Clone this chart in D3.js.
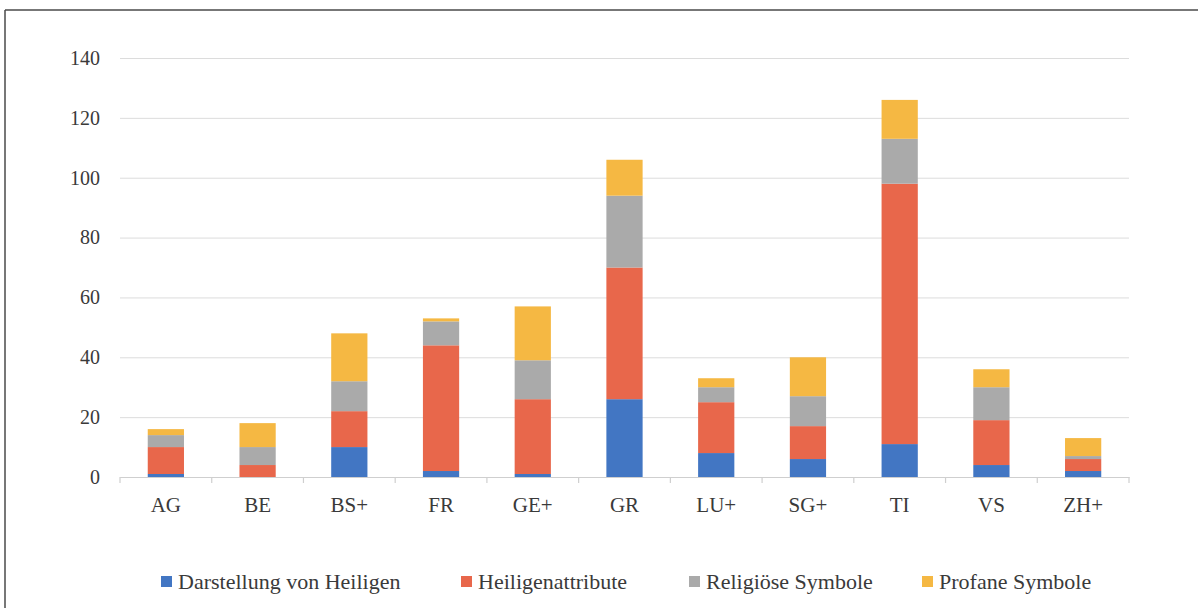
<!DOCTYPE html>
<html>
<head>
<meta charset="utf-8">
<script src="https://cdn.jsdelivr.net/npm/d3@7"></script>
<style>
  html, body { margin: 0; padding: 0; background: #ffffff; }
  svg { display: block; }
</style>
</head>
<body>
<svg id="chart" width="1198" height="608"></svg>
<script>
// Kantone (Kategorien)
const categories = ["AG", "BE", "BS+", "FR", "GE+", "GR", "LU+", "SG+", "TI", "VS", "ZH+"];

// Anzahl je Motivgruppe
const darstellungVonHeiligen = [1, 0, 10, 2, 1, 26, 8, 6, 11, 4, 2];
const heiligenattribute      = [9, 4, 12, 42, 25, 44, 17, 11, 87, 15, 4];
const religioeseSymbole      = [4, 6, 10, 8, 13, 24, 5, 10, 15, 11, 1];
const profaneSymbole         = [2, 8, 16, 1, 18, 12, 3, 13, 13, 6, 6];

const seriesNames = ["Darstellung von Heiligen", "Heiligenattribute", "Religiöse Symbole", "Profane Symbole"];
const seriesColors = ["#4276c3", "#e8674b", "#aaaaaa", "#f5b843"];
const yTicks = [0, 20, 40, 60, 80, 100, 120, 140];

const serif = '"Liberation Serif", "Times New Roman", serif';
const textColor = "#3a3a3a";

const svg = d3.select("#chart");

// Rahmen oben und links
svg.append("line").attr("x1", 5).attr("x2", 1198).attr("y1", 10).attr("y2", 10)
  .attr("stroke", "#4a4a4a").attr("stroke-width", 1.5);
svg.append("line").attr("x1", 5).attr("x2", 5).attr("y1", 10).attr("y2", 608)
  .attr("stroke", "#4a4a4a").attr("stroke-width", 1.5);

const plotLeft = 120, plotRight = 1129, plotTop = 58, plotBottom = 477;

const x = d3.scaleBand().domain(categories).range([plotLeft, plotRight]).padding(0);
const y = d3.scaleLinear().domain([0, 140]).range([plotBottom, plotTop]);

// Y-Achse mit Gitternetz
const yAxis = svg.append("g")
  .attr("transform", `translate(${plotLeft},0)`)
  .call(d3.axisLeft(y).tickValues(yTicks).tickSize(-(plotRight - plotLeft)).tickPadding(20));
yAxis.select(".domain").remove();
yAxis.selectAll(".tick line").attr("stroke", "#dcdcdc").attr("stroke-width", 1);
yAxis.selectAll(".tick text")
  .style("font-family", serif).style("font-size", "20px").style("fill", textColor);

// Gestapelte Daten
const rows = categories.map((c, i) => ({
  cat: c,
  s0: darstellungVonHeiligen[i],
  s1: heiligenattribute[i],
  s2: religioeseSymbole[i],
  s3: profaneSymbole[i]
}));
const stack = d3.stack().keys(["s0", "s1", "s2", "s3"]);
const layers = stack(rows);

const barW = x.bandwidth() * 0.395;

svg.append("g").selectAll("g")
  .data(layers)
  .join("g")
  .attr("fill", (d, i) => seriesColors[i])
  .selectAll("rect")
  .data(d => d)
  .join("rect")
  .attr("x", d => x(d.data.cat) + (x.bandwidth() - barW) / 2)
  .attr("width", barW)
  .attr("y", d => y(d[1]))
  .attr("height", d => y(d[0]) - y(d[1]));

// X-Achse
const xAxis = svg.append("g")
  .attr("transform", `translate(0,${plotBottom})`)
  .call(d3.axisBottom(x).tickSize(0).tickPadding(20));
xAxis.select(".domain").attr("stroke", "#cfcfcf").attr("stroke-width", 1.2);
xAxis.selectAll(".tick text")
  .style("font-family", serif).style("font-size", "21px").style("fill", textColor);

// Trennstriche zwischen den Kategorien
const edges = categories.map(c => x(c)).concat([x(categories[categories.length - 1]) + x.bandwidth()]);
svg.append("g").selectAll("line")
  .data(edges)
  .join("line")
  .attr("x1", d => d).attr("x2", d => d)
  .attr("y1", plotBottom).attr("y2", plotBottom + 6)
  .attr("stroke", "#cfcfcf").attr("stroke-width", 1.2);

// Legende
const legendX = [161, 461, 689, 922];
const legend = svg.append("g").selectAll("g")
  .data(seriesNames)
  .join("g")
  .attr("transform", (d, i) => `translate(${legendX[i]},581)`);
legend.append("rect")
  .attr("x", 0).attr("y", -5).attr("width", 11).attr("height", 11)
  .attr("fill", (d, i) => seriesColors[i]);
legend.append("text")
  .attr("x", 17).attr("y", 0).attr("dy", "0.35em")
  .style("font-family", serif).style("font-size", "22px").style("fill", textColor)
  .text(d => d);
</script>
</body>
</html>
